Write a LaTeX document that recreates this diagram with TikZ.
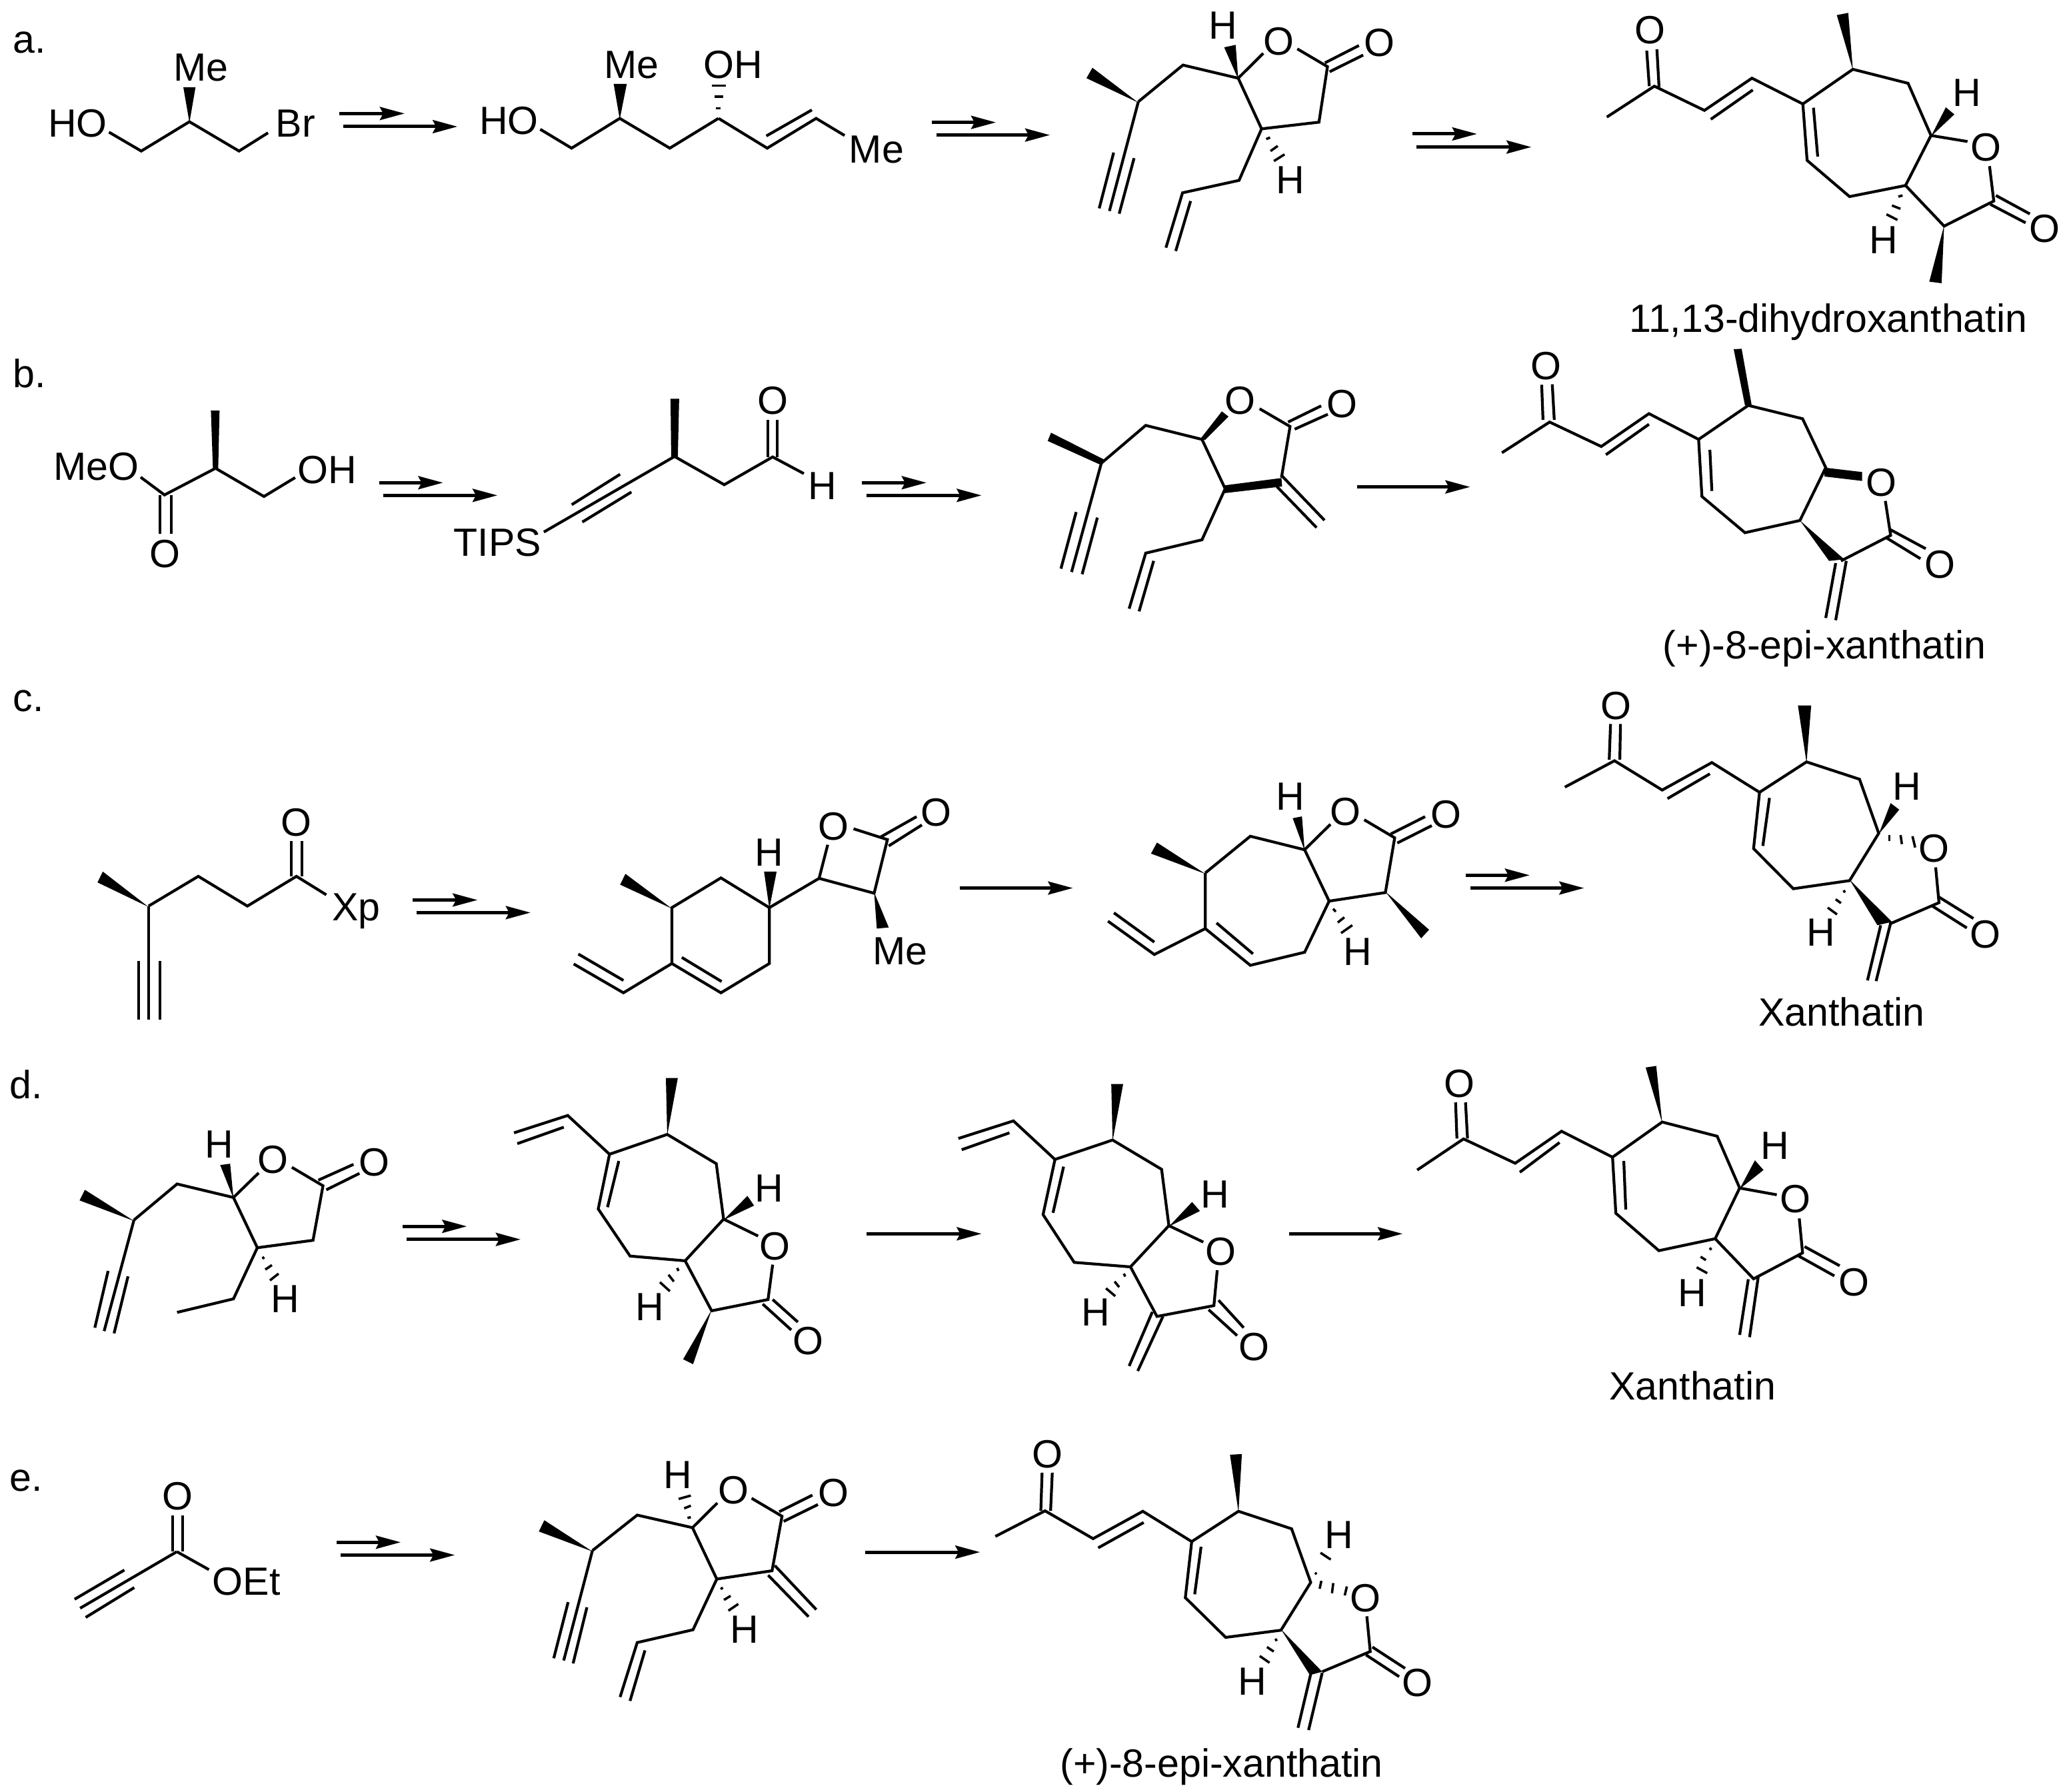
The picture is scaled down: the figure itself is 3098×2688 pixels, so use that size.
\documentclass[tikz,border=0pt]{standalone}
\usepackage{fontspec}
\setmainfont{Liberation Sans}
\usetikzlibrary{arrows.meta}
\newcounter{lb}
\newcounter{rx}
\tikzset{
  bond/.style={line width=.042cm,line join=miter,black},
  hashb/.style={line width=.036cm,black},
  solidw/.style={fill=black},
  rxnarrow/.style={line width=.05cm,-{Stealth[length=.37cm,width=.195cm,inset=.05cm]}},
  atomlab/.style={inner sep=0pt,outer sep=0pt,anchor=base,font=\fontsize{16.8}{20}\selectfont},
  leftlab/.style={atomlab,anchor=base west},
  za/.style={xscale=1/1.425,yscale=1/3},
  zb/.style={shift={(1100,0)},xscale=1/1.568,yscale=1/3},
  zc/.style={shift={(2100,0)},xscale=1/1.571,yscale=1/3},
  zd/.style={shift={(0,520)},xscale=1/1.005,yscale=1/3},
  ze/.style={shift={(1540,520)},xscale=1/1.0064,yscale=1/3},
  zf/.style={shift={(0,1030)},xscale=1/1.005,yscale=1/2.958},
  zg/.style={shift={(1540,1030)},xscale=1/1.0064,yscale=1/2.958},
  zh/.style={shift={(0,1590)},xscale=1/1.005,yscale=1/2.958},
  zi/.style={shift={(1540,1590)},xscale=1/1.0064,yscale=1/2.958},
  zj/.style={shift={(0,2160)},xscale=1/1.206,yscale=1/2.97},
  zk/.style={shift={(1300,2160)},xscale=1/1.568,yscale=1/2.97},
}
\newcommand{\lab}[3]{\stepcounter{lb}\node[atomlab] (L\arabic{lb}) at (#1,#2) {#3};}
\newcommand{\tag}[3]{\stepcounter{lb}\node[leftlab] (L\arabic{lb}) at (#1,#2) {#3};}
\newcommand{\rxn}[3]{\stepcounter{rx}\coordinate (S\arabic{rx}) at (#1,#3);\coordinate (E\arabic{rx}) at (#2,#3);\draw[rxnarrow] (S\arabic{rx}) -- (E\arabic{rx});}
\newcommand{\bnd}{\draw[bond]}
\newcommand{\hsh}{\draw[hashb]}
\newcommand{\wdg}{\fill[solidw]}
\begin{document}
\begin{tikzpicture}[x=.01cm,y=-.01cm]
\fill[white] (0,0) rectangle (3098,2688);
\useasboundingbox (0,0) rectangle (3098,2688);
% ---------- row a
\begin{scope}[za]
\tag{28}{240}{a.}
\lab{430}{365}{Me}
\lab{166}{618}{HO}
\lab{632}{618}{Br}
\bnd (233,595)--(302,680)--(405,548)--(511,680)--(573,598);
\wdg (405,552)--(392,393)--(418,393)--cycle;
\rxn{726}{865}{511}
\rxn{734}{978}{570}
\lab{1350}{352}{Me}
\lab{1088}{606}{HO}
\bnd (1155,582)--(1222,667)--(1325,533)--(1432,667)--(1536,533);
\wdg (1325,537)--(1312,378)--(1340,378)--cycle;
\hsh (1531,488)--(1541,488);
\hsh (1528,435)--(1546,435);
\hsh (1522,385)--(1552,385);
\end{scope}
\begin{scope}[zb]
\lab{-1}{352}{OH}
\bnd (-34.5,533)--(80,667)--(195,533)--(262,610);
\bnd (78,612)--(185,495);
\lab{337}{735}{Me}
\rxn{467}{618}{551}
\rxn{478}{745}{608}
\wdg (953,462)--(845,305)--(831,352)--cycle;
\bnd (953,458)--(1058,293)--(1188,352)--(1243,580)--(1378,550)--(1398,300)--(1327,220);
\bnd (1188,352)--(1247,240);
\bnd (1392,283)--(1472,205);
\bnd (1403,323)--(1482,248);
\lab{1520}{255}{O}
\lab{1283}{247}{O}
\lab{1153}{177}{H}
\wdg (1188,356)--(1155,213)--(1182,202)--cycle;
\bnd (1243,580)--(1190,812)--(1057,868)--(1018,1115);
\bnd (1076,905)--(1041,1130);
\bnd (953,458)--(885,950);
\bnd (895,687)--(861,938);
\bnd (943,712)--(908,962);
\hsh (1254,626)--(1263,619);
\hsh (1264,680)--(1281,657);
\hsh (1272,725)--(1297,695);
\lab{1311}{872}{H}
\end{scope}
\begin{scope}[zc]
\rxn{30}{182}{603}
\rxn{40}{310}{662}
\bnd (488,527)--(600,388)--(718,497)--(830,352)--(950,468)--(1068,312)--(1198,375)--(1252,610)--(1192,835)--(1060,885)--(960,722)--(950,468);
\bnd (582,228)--(588,388);
\bnd (606,222)--(611,392);
\lab{590}{197}{O}
\bnd (733,537)--(832,405);
\bnd (975,485)--(985,705);
\wdg (1068,316)--(1030,68)--(1057,58)--cycle;
\wdg (1252,614)--(1287,483)--(1307,515)--cycle;
\lab{1336}{478}{H}
\bnd (1252,610)--(1338,637);
\lab{1382}{725}{O}
\bnd (1192,835)--(1283,1018)--(1400,905)--(1390,748);
\bnd (1405,880)--(1485,963);
\bnd (1392,920)--(1475,1003);
\lab{1520}{1092}{O}
\wdg (1283,1014)--(1248,1268)--(1277,1275)--cycle;
\hsh (1175,885)--(1185,880);
\hsh (1160,925)--(1180,940);
\hsh (1147,965)--(1173,990);
\lab{1140}{1142}{H}
\lab{1010}{1495}{11,13-dihydroxanthatin}
\end{scope}
% ---------- row b
\begin{scope}[zd]
\tag{20}{183}{b.}
\lab{145}{600}{MeO}
\lab{493}{615}{OH}
\bnd (212,588)--(248,668)--(325,548)--(398,675)--(445,590);
\wdg (321,550)--(318,288)--(331,288)--(329,550)--cycle;
\bnd (241,668)--(241,842);
\bnd (258,668)--(258,842);
\lab{249}{995}{O}
\rxn{572}{668}{613}
\rxn{578}{750}{670}
\lab{750}{942}{TIPS}
\bnd (820,835)--(1017,495);
\bnd (862,712)--(935,575);
\bnd (878,790)--(952,655);
\bnd (1017,495)--(1092,622)--(1165,497)--(1212,572);
\wdg (1012,497)--(1011,235)--(1024,235)--(1022,497)--cycle;
\bnd (1158,497)--(1158,330);
\bnd (1172,497)--(1172,330);
\lab{1165}{305}{O}
\lab{1240}{688}{H}
\rxn{1300}{1397}{613}
\rxn{1307}{1480}{670}
\end{scope}
\begin{scope}[ze]
\wdg (118,510)--(37,388)--(32,425)--(110,530)--cycle;
\bnd (113,525)--(180,355)--(265,418)--(300,640);
\wdg (262,418)--(295,292)--(305,315)--(270,420)--cycle;
\bnd (385,590)--(398,360)--(352,280);
\bnd (395,340)--(445,267);
\bnd (405,372)--(455,305);
\lab{323}{305}{O}
\lab{477}{318}{O}
\wdg (299,625)--(385,592)--(386,630)--(299,660)--cycle;
\bnd (385,580)--(450,782);
\bnd (378,630)--(438,815);
\bnd (300,640)--(265,870)--(180,930)--(155,1180);
\bnd (192,965)--(170,1192);
\bnd (113,525)--(68,1015);
\bnd (75,745)--(52,1000);
\bnd (107,770)--(84,1025);
\rxn{499}{670}{632}
\bnd (718,478)--(790,340)--(868,450)--(940,302)--(1015,418)--(1090,265)--(1172,325)--(1207,545)--(1168,783)--(1085,838)--(1020,675)--(1015,418);
\bnd (780,330)--(778,172);
\bnd (797,330)--(794,170);
\lab{785}{148}{O}
\bnd (875,487)--(940,350);
\bnd (1032,465)--(1035,650);
\wdg (1085,265)--(1068,12)--(1080,10)--(1095,262)--cycle;
\wdg (1205,545)--(1262,565)--(1262,605)--(1205,585)--cycle;
\lab{1291}{672}{O}
\wdg (1168,783)--(1212,965)--(1235,958)--cycle;
\bnd (1230,965)--(1305,850)--(1297,695);
\bnd (1305,825)--(1358,910);
\bnd (1298,860)--(1350,955);
\lab{1380}{1042}{O}
\bnd (1222,975)--(1207,1222);
\bnd (1238,965)--(1222,1232);
\lab{1205}{1405}{(+)-8-epi-xanthatin}
\end{scope}
% ---------- row c
\begin{scope}[zf]
\tag{20}{112}{c.}
\wdg (224,979)--(155,822)--(147,870)--cycle;
\bnd (224,975)--(299,843)--(373,975)--(447,843)--(492,925);
\bnd (439,843)--(439,685);
\bnd (455,843)--(455,685);
\lab{447}{665}{O}
\lab{537}{1040}{Xp}
\bnd (224,975)--(224,1480);
\bnd (209,1220)--(209,1480);
\bnd (241,1220)--(241,1480);
\rxn{622}{720}{948}
\rxn{628}{800}{1004}
\wdg (1013,986)--(943,832)--(935,880)--cycle;
\bnd (1013,982)--(1087,850)--(1160,982)--(1160,1230)--(1087,1360)--(1013,1230)--cycle;
\bnd (1028,1203)--(1088,1310);
\bnd (1013,1230)--(940,1360)--(865,1232);
\bnd (872,1188)--(940,1305);
\wdg (1160,986)--(1152,822)--(1171,822)--cycle;
\lab{1160}{798}{H}
\bnd (1160,982)--(1235,852)--(1248,703);
\lab{1257}{682}{O}
\bnd (1235,852)--(1318,918)--(1338,680)--(1287,632);
\bnd (1328,668)--(1382,578);
\bnd (1340,708)--(1390,615);
\lab{1412}{620}{O}
\wdg (1318,914)--(1322,1075)--(1340,1070)--cycle;
\lab{1357}{1235}{Me}
\rxn{1447}{1617.7}{895}
\end{scope}
\begin{scope}[zg]
\wdg (270,832)--(197,693)--(188,742)--cycle;
\bnd (270,828)--(338,665)--(420,725)--(457,953)--(542,915)--(556,672)--(510,592);
\bnd (270,828)--(270,1075)--(338,1238)--(420,1180)--(457,953);
\bnd (287,1050)--(342,1187);
\bnd (270,1075)--(193,1190)--(123,1042);
\bnd (132,1005)--(193,1135);
\wdg (420,729)--(402,585)--(416,577)--cycle;
\lab{398}{550}{H}
\bnd (420,725)--(459,612);
\lab{482}{618}{O}
\bnd (550,655)--(602,578);
\bnd (560,695)--(612,618);
\lab{634}{630}{O}
\wdg (542,911)--(608,1080)--(596,1118)--cycle;
\hsh (463,987)--(467,1000);
\hsh (470,1048)--(480,1025);
\hsh (475,1095)--(492,1060);
\lab{500}{1238}{H}
\rxn{663}{760}{838}
\rxn{670}{842}{895}
\bnd (813,447)--(888,330)--(960,460)--(1035,338)--(1107,470)--(1178,335)--(1258,412)--(1287,652)--(1243,862)--(1158,898)--(1098,720)--(1107,470);
\bnd (880,325)--(882,167);
\bnd (896,325)--(897,167);
\lab{890}{145}{O}
\bnd (968,498)--(1032,388);
\bnd (1122,495)--(1112,708);
\wdg (1178,339)--(1165,85)--(1185,85)--cycle;
\wdg (1287,656)--(1305,518)--(1318,547)--cycle;
\lab{1330}{505}{H}
\hsh (1303,660)--(1303,685);
\hsh (1320,660)--(1322,700);
\hsh (1338,665)--(1342,715);
\lab{1370}{780}{O}
\wdg (1243,858)--(1285,1060)--(1307,1045)--cycle;
\bnd (1303,1055)--(1378,960)--(1373,803);
\bnd (1378,935)--(1430,1030);
\bnd (1368,975)--(1420,1072);
\lab{1448}{1160}{O}
\bnd (1290,1060)--(1270,1305);
\bnd (1305,1050)--(1283,1308);
\hsh (1234,905)--(1236,915);
\hsh (1222,945)--(1230,962);
\hsh (1210,982)--(1224,1012);
\lab{1200}{1152}{H}
\lab{1231}{1508}{Xanthatin}
\end{scope}
% ---------- row d
\begin{scope}[zh]
\tag{15}{172}{d.}
\wdg (202,716)--(128,578)--(120,625)--cycle;
\bnd (202,712)--(267,552)--(352,612)--(388,835)--(472,802)--(487,560)--(440,478);
\bnd (352,612)--(390,503);
\lab{412}{505}{O}
\bnd (480,535)--(533,465);
\bnd (492,578)--(542,505);
\lab{564}{515}{O}
\wdg (352,616)--(332,468)--(347,462)--cycle;
\lab{330}{436}{H}
\bnd (388,835)--(352,1062)--(267,1122);
\bnd (202,712)--(157,1205);
\bnd (163,938)--(143,1190);
\bnd (193,962)--(172,1215);
\hsh (396,875)--(398,885);
\hsh (400,932)--(410,912);
\hsh (407,980)--(420,950);
\lab{430}{1122}{H}
\rxn{607}{704}{740}
\rxn{613}{785}{798}
\bnd (775,325)--(856,248)--(919,420);
\bnd (780,373)--(850,300);
\bnd (919,420)--(1006,332)--(1080,462)--(1091,708)--(1033,893)--(950,872)--(902,663)--cycle;
\bnd (933,450)--(916,655);
\wdg (1006,336)--(1004,82)--(1022,82)--cycle;
\wdg (1091,712)--(1127,605)--(1137,648)--cycle;
\lab{1160}{632}{H}
\bnd (1091,708)--(1143,783);
\lab{1168}{888}{O}
\bnd (1033,893)--(1073,1115)--(1158,1065)--(1165,910);
\bnd (1165,1065)--(1203,1165);
\bnd (1150,1085)--(1193,1200);
\lab{1219}{1308}{O}
\wdg (1073,1111)--(1030,1330)--(1045,1352)--cycle;
\hsh (1021,925)--(1023,938);
\hsh (1008,955)--(1016,985);
\hsh (995,988)--(1010,1028);
\lab{980}{1158}{H}
\rxn{1307}{1480}{773}
\bnd (1445,350)--(1528,272)--(1590.6,443);
\bnd (1450,400)--(1522,325);
\end{scope}
\begin{scope}[zi]
\bnd (43,443)--(130,357)--(204,487)--(215,737)--(157,920)--(72,900)--(25,688)--cycle;
\bnd (56,475)--(40,680);
\wdg (130,361)--(128,108)--(146,108)--cycle;
\wdg (215,741)--(250,632)--(262,672)--cycle;
\lab{285}{658}{H}
\bnd (215,737)--(267,810);
\lab{293}{912}{O}
\bnd (157,920)--(197,1140)--(283,1092)--(288,935);
\bnd (290,1068)--(328,1190);
\bnd (275,1110)--(318,1225);
\lab{344}{1335}{O}
\bnd (190,1120)--(155,1360);
\bnd (206,1140)--(168,1382);
\hsh (147,950)--(149,963);
\hsh (133,985)--(140,1010);
\hsh (120,1015)--(134,1050);
\lab{104}{1182}{H}
\rxn{397}{568}{773}
\bnd (590,490)--(660,352)--(738,460)--(808,318)--(885,433)--(960,277)--(1043,340)--(1077,570)--(1040,795)--(955,848)--(890,682)--(885,433);
\bnd (650,350)--(648,190);
\bnd (666,350)--(663,190);
\lab{654}{167}{O}
\bnd (745,500)--(805,368);
\bnd (902,450)--(905,665);
\wdg (960,281)--(935,35)--(951,28)--cycle;
\wdg (1077,574)--(1100,447)--(1113,490)--cycle;
\lab{1130}{443}{H}
\bnd (1077,570)--(1133,600);
\lab{1161}{680}{O}
\bnd (1040,795)--(1098,973)--(1172,858)--(1167,705);
\bnd (1175,830)--(1228,915);
\bnd (1165,870)--(1220,960);
\lab{1250}{1048}{O}
\bnd (1090,975)--(1077,1222);
\bnd (1105,965)--(1092,1232);
\hsh (1032,835)--(1034,845);
\hsh (1018,875)--(1026,890);
\hsh (1012,922)--(1028,948);
\lab{1005}{1096}{H}
\lab{1006}{1510}{Xanthatin}
\end{scope}
% ---------- row e
\begin{scope}[zj]
\tag{18}{230}{e.}
\bnd (320,500)--(145,752);
\bnd (135,712)--(225,582);
\bnd (155,793)--(243,660);
\bnd (320,500)--(378,580);
\lab{446}{692}{OEt}
\bnd (312,500)--(312,338);
\bnd (330,500)--(330,338);
\lab{322}{312}{O}
\rxn{609}{725}{458}
\rxn{616}{823}{515}
\wdg (1072,499)--(985,360)--(975,410)--cycle;
\bnd (1072,495)--(1153,337)--(1253,393)--(1297,622)--(1397,585)--(1415,342)--(1360,262);
\bnd (1253,393)--(1298,283);
\lab{1327}{288}{O}
\bnd (1410,322)--(1470,248);
\bnd (1418,365)--(1480,290);
\lab{1508}{297}{O}
\bnd (1402,562)--(1477,758);
\bnd (1390,605)--(1463,790);
\bnd (1297,622)--(1254,848)--(1153,905)--(1122,1148);
\bnd (1167,940)--(1140,1165);
\bnd (1072,495)--(1020,985);
\bnd (1028,725)--(1002,975);
\bnd (1062,748)--(1037,998);
\hsh (1244,350)--(1250,346);
\hsh (1238,307)--(1250,295);
\hsh (1228,265)--(1250,250);
\lab{1226}{218}{H}
\hsh (1304,667)--(1308,660);
\hsh (1310,715)--(1322,697);
\hsh (1318,763)--(1336,733);
\lab{1347}{908}{H}
\end{scope}
\begin{scope}[zk]
\rxn{-3}{267}{502}
\bnd (303,432)--(420,318)--(533,442)--(650,320)--(765,455)--(875,320)--(1000,398)--(1045,637)--(975,850)--(845,882)--(750,705)--(765,455);
\bnd (410,318)--(413,148);
\bnd (433,318)--(437,148);
\lab{425}{127}{O}
\bnd (545,483)--(652,370);
\bnd (787,478)--(772,690);
\wdg (875,324)--(855,68)--(883,65)--cycle;
\hsh (1055,594)--(1059,600);
\hsh (1068,505)--(1092,535);
\lab{1112}{485}{H}
\hsh (1070,630)--(1066,665);
\hsh (1098,640)--(1095,685);
\hsh (1130,655)--(1125,695);
\lab{1173}{767}{O}
\bnd (1177,788)--(1185,945)--(1072,1035);
\bnd (1190,925)--(1267,1020);
\bnd (1175,960)--(1253,1057);
\lab{1296}{1145}{O}
\wdg (975,846)--(1043,1050)--(1072,1035)--cycle;
\bnd (1045,1045)--(1015,1285);
\bnd (1072,1040)--(1040,1295);
\hsh (962,888)--(965,898);
\hsh (942,925)--(958,945);
\hsh (925,965)--(948,995);
\lab{908}{1138}{H}
\lab{835}{1505}{(+)-8-epi-xanthatin}
\end{scope}
\end{tikzpicture}
\end{document}
